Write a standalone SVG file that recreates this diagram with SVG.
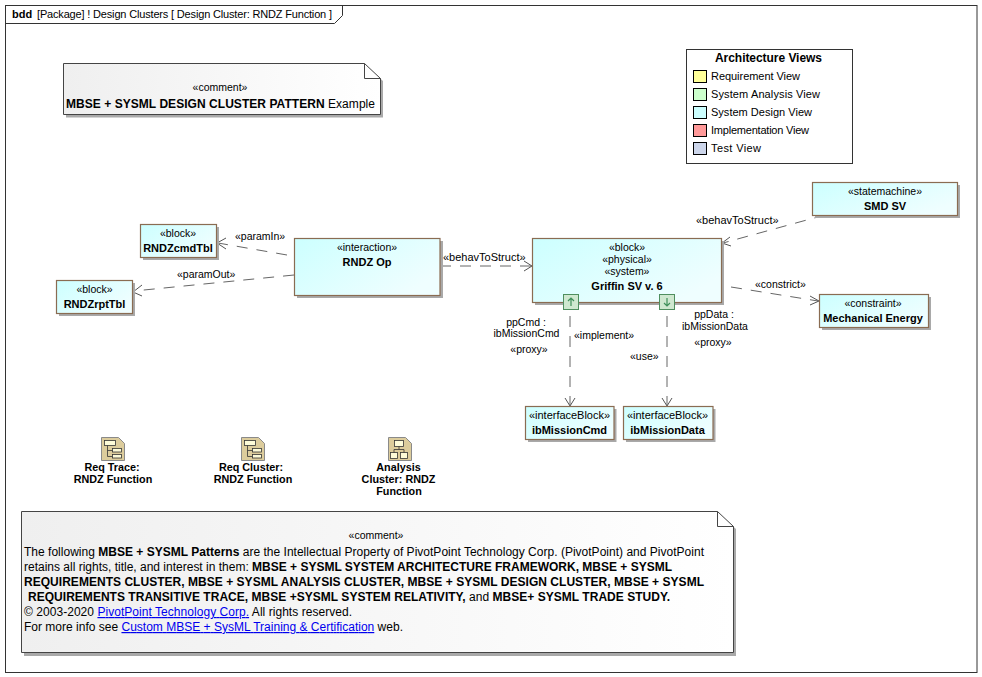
<svg xmlns="http://www.w3.org/2000/svg" width="982" height="677" viewBox="0 0 982 677">
<style>
text{font-family:"Liberation Sans",Arial,sans-serif;font-size:11px;fill:#000}
.c{text-anchor:middle}
.b{font-weight:bold}
.n{font-size:10.500px}
.bt{font-size:11px;font-weight:bold}
.ib{font-size:10.800px;font-weight:bold}
.sh{fill:#a9a9a9}
.blk{fill:url(#cy);stroke:#8a6c52;stroke-width:1.200}
.note{fill:url(#gr);stroke:#444;stroke-width:1}
.fold{fill:none;stroke:#444;stroke-width:1}
.dep{fill:none;stroke:#666;stroke-width:1;stroke-dasharray:11 9}
.head{fill:none;stroke:#555;stroke-width:1}
.sw{stroke:#000;stroke-width:1}
.port{fill:#cfe8d0;stroke:#4f8f5f;stroke-width:1}
.parr{fill:none;stroke:#3f8f5a;stroke-width:1.200}
.ico{fill:#dccc9c;stroke:#8a8a8a;stroke-width:1}
.ic{fill:#fdfbd8;stroke:#333;stroke-width:.8}
.il{fill:none;stroke:#333;stroke-width:.8}
.lnk{fill:#0000ee;text-decoration:underline}
.t{font-size:12px}
</style>
<defs>
<linearGradient id="cy" x1="0" y1="0" x2="1" y2="0.6"><stop offset="0" stop-color="#ccffff"/><stop offset="1" stop-color="#effeff"/></linearGradient>
<linearGradient id="gr" x1="0" y1="0" x2="1" y2="0"><stop offset="0" stop-color="#efefef"/><stop offset="1" stop-color="#ffffff"/></linearGradient>
</defs>
<rect width="982" height="677" fill="#fff"/>
<g id="frame">
<rect x="5.500" y="5.500" width="971.500" height="667" fill="#fff" stroke="#333"/>
<path d="M5.500 23.500H334.500L342.500 15.500V5.500" fill="none" stroke="#333"/>
<text x="12" y="18" class="b">bdd</text>
<text x="37" y="18" textLength="295" lengthAdjust="spacing">[Package] ! Design Clusters [ Design Cluster: RNDZ Function ]</text>
</g>
<g id="comment1">
<path d="M66 67H367L383 81V117.500H66Z" class="sh"/>
<path d="M63.500 63.500H364.500L380.500 78.500V114.500H63.500Z" class="note"/>
<path d="M364.500 63.500V78.500H380.500" class="fold"/>
<text x="220" y="91" class="c n">«comment»</text>
<text x="66" y="108" class="t" textLength="309" lengthAdjust="spacing"><tspan class="b">MBSE + SYSML DESIGN CLUSTER PATTERN</tspan> Example</text>
</g>
<g id="legend">
<rect x="686.500" y="49.500" width="166" height="114" fill="#fff" stroke="#333"/>
<text x="768.500" y="62" class="c b t" textLength="107" lengthAdjust="spacing">Architecture Views</text>
<rect x="693.500" y="70.500" width="13" height="12" fill="#ffff99" class="sw"/><text x="711" y="80" textLength="89">Requirement View</text>
<rect x="693.500" y="88.500" width="13" height="12" fill="#ccffcc" class="sw"/><text x="711" y="98" textLength="109">System Analysis View</text>
<rect x="693.500" y="106.500" width="13" height="12" fill="#ccffff" class="sw"/><text x="711" y="116" textLength="101">System Design View</text>
<rect x="693.500" y="124.500" width="13" height="12" fill="#ff9999" class="sw"/><text x="711" y="134" textLength="98">Implementation View</text>
<rect x="693.500" y="142.500" width="13" height="12" fill="#ccd5ea" class="sw"/><text x="711" y="152" textLength="50">Test View</text>
</g>
<g id="connectors">
<path class="dep" d="M287 255L218 243"/><path class="head" d="M226 238L217 243L226 249"/>
<path class="dep" d="M294 275L134 291"/><path class="head" d="M142 285L133 292L142 296"/>
<path class="dep" d="M440 266H531"/><path class="head" d="M524 261L532 266L524 271"/>
<path class="dep" d="M825 215L723 243"/><path class="head" d="M730 237L722 243L731 246"/>
<path class="dep" d="M731 287L818 301"/><path class="head" d="M810 296L819 301L810 305"/>
<path class="dep" d="M570 316V405"/><path class="head" d="M565 398L570 406L575 398"/>
<path class="dep" d="M667 316V405"/><path class="head" d="M662 398L667 406L672 398"/>
<text x="235" y="240" class="n">«paramIn»</text>
<text x="177" y="278" class="n">«paramOut»</text>
<text x="443" y="261">«behavToStruct»</text>
<text x="696" y="224">«behavToStruct»</text>
<text x="755" y="288" class="n">«constrict»</text>
<text x="574" y="339" class="n">«implement»</text>
<text x="630" y="360" class="n">«use»</text>
</g>
<g id="rndzCmdTbl">
<rect x="143" y="227" width="76" height="33" class="sh"/>
<rect x="140.500" y="224.500" width="76" height="33" class="blk"/>
<text x="178" y="237" class="c n">«block»</text>
<text x="178" y="252" class="c bt">RNDZcmdTbl</text>
</g>
<g id="rndzRptTbl">
<rect x="59" y="283" width="76" height="33" class="sh"/>
<rect x="56.500" y="280.500" width="76" height="33" class="blk"/>
<text x="94.500" y="293" class="c n">«block»</text>
<text x="94.500" y="308" class="c bt">RNDZrptTbl</text>
</g>
<g id="rndzOp">
<rect x="297" y="241" width="146" height="57" class="sh"/>
<rect x="294.500" y="238.500" width="145.500" height="57" class="blk"/>
<text x="367" y="251" class="c n">«interaction»</text>
<text x="367" y="266" class="c bt">RNDZ Op</text>
</g>
<g id="griffin">
<rect x="535" y="241" width="189" height="64" class="sh"/>
<rect x="532.500" y="238.500" width="189" height="64" class="blk"/>
<text x="627" y="251" class="c n">«block»</text>
<text x="627" y="263" class="c n">«physical»</text>
<text x="627" y="275" class="c n">«system»</text>
<text x="627" y="290" class="c bt">Griffin SV v. 6</text>
</g>
<g id="ppCmd">
<rect x="563.500" y="294.500" width="15" height="15" class="port"/>
<path class="parr" d="M571 306V298M568 301L571 298L574 301"/>
<text x="526" y="326" class="c n">ppCmd :</text>
<text x="526.500" y="337" class="c n">ibMissionCmd</text>
<text x="529" y="353" class="c n">«proxy»</text>
</g>
<g id="ppData">
<rect x="659.500" y="294.500" width="15" height="15" class="port"/>
<path class="parr" d="M667 298V306M664 303L667 306L670 303"/>
<text x="714" y="318" class="c n">ppData :</text>
<text x="715" y="330" class="c n">ibMissionData</text>
<text x="713" y="346" class="c n">«proxy»</text>
</g>
<g id="ibMissionCmd">
<rect x="528" y="409" width="88.500" height="33" class="sh"/>
<rect x="525.500" y="406.500" width="88.500" height="33" class="blk"/>
<text x="569.500" y="419" class="c" textLength="81">«interfaceBlock»</text>
<text x="569.500" y="434" class="c bt">ibMissionCmd</text>
</g>
<g id="ibMissionData">
<rect x="626" y="409" width="89.500" height="33" class="sh"/>
<rect x="623.500" y="406.500" width="89.500" height="33" class="blk"/>
<text x="667.500" y="419" class="c" textLength="81">«interfaceBlock»</text>
<text x="667.500" y="434" class="c bt">ibMissionData</text>
</g>
<g id="smdSv">
<rect x="815" y="185" width="145" height="33" class="sh"/>
<rect x="812.500" y="182.500" width="145" height="33" class="blk"/>
<text x="885" y="195" class="c n">«statemachine»</text>
<text x="885" y="210" class="c bt">SMD SV</text>
</g>
<g id="mechEnergy">
<rect x="822" y="297" width="109" height="33" class="sh"/>
<rect x="819.500" y="294.500" width="109" height="33" class="blk"/>
<text x="873" y="307" class="c n">«constraint»</text>
<text x="873" y="322" class="c bt">Mechanical Energy</text>
</g>
<g id="reqTrace">
<path class="ico" d="M101.500 437.500H118.500L124.500 443.500V460.500H101.500Z"/>
<rect class="ic" x="104.500" y="440.500" width="11" height="5"/><rect class="ic" x="112.500" y="448.500" width="9" height="3.500"/><rect class="ic" x="112.500" y="454.500" width="9" height="3.500"/>
<path class="il" d="M107.500 445.500V456.500H112.500M107.500 450.500H112.500"/>
<text x="112" y="471" class="c ib">Req Trace:</text><text x="113" y="483" class="c ib">RNDZ Function</text>
</g>
<g id="reqCluster">
<path class="ico" d="M241.500 437.500H258.500L264.500 443.500V460.500H241.500Z"/>
<rect class="ic" x="244.500" y="440.500" width="11" height="5"/><rect class="ic" x="252.500" y="448.500" width="9" height="3.500"/><rect class="ic" x="252.500" y="454.500" width="9" height="3.500"/>
<path class="il" d="M247.500 445.500V456.500H252.500M247.500 450.500H252.500"/>
<text x="251" y="471" class="c ib">Req Cluster:</text><text x="253" y="483" class="c ib">RNDZ Function</text>
</g>
<g id="analysisCluster">
<path class="ico" d="M388.500 437.500H405.500L411.500 443.500V460.500H388.500Z"/>
<rect class="ic" x="394.500" y="440.500" width="9" height="6"/><rect class="ic" x="390.500" y="452.500" width="7" height="6"/><rect class="ic" x="400.500" y="452.500" width="7" height="6"/>
<path class="il" d="M399 446.500V449.500M394 452.500V449.500H404V452.500"/>
<text x="398.500" y="471" class="c ib">Analysis</text><text x="398.500" y="483" class="c ib">Cluster: RNDZ</text><text x="399" y="495" class="c ib">Function</text>
</g>
<g id="comment2">
<path d="M24 515H720L736 529V656H24Z" class="sh"/>
<path d="M21.500 511.500H717.500L733.500 526.500V652.500H21.500Z" class="note"/>
<path d="M717.500 511.500V526.500H733.500" class="fold"/>
<text x="376" y="539" class="c n">«comment»</text>
<text x="24" y="556" class="t" textLength="680" lengthAdjust="spacing">The following <tspan class="b">MBSE + SYSML Patterns</tspan> are the Intellectual Property of PivotPoint Technology Corp. (PivotPoint) and PivotPoint</text>
<text x="24" y="571" class="t" textLength="648" lengthAdjust="spacing">retains all rights, title, and interest in them: <tspan class="b">MBSE + SYSML SYSTEM ARCHITECTURE FRAMEWORK, MBSE + SYSML</tspan></text>
<text x="24" y="586" class="t" textLength="680" lengthAdjust="spacing"><tspan class="b">REQUIREMENTS CLUSTER,</tspan> <tspan class="b">MBSE + SYSML ANALYSIS CLUSTER,</tspan> <tspan class="b">MBSE + SYSML DESIGN CLUSTER,</tspan> <tspan class="b">MBSE + SYSML</tspan></text>
<text x="28" y="601" class="t" textLength="642" lengthAdjust="spacing"><tspan class="b">REQUIREMENTS TRANSITIVE TRACE, MBSE +SYSML SYSTEM RELATIVITY,</tspan> and <tspan class="b">MBSE+ SYSML TRADE STUDY.</tspan></text>
<text x="24" y="616" class="t" textLength="328" lengthAdjust="spacing">© 2003-2020 <tspan class="lnk">PivotPoint Technology Corp.</tspan> All rights reserved.</text>
<text x="24" y="631" class="t" textLength="379" lengthAdjust="spacing">For more info see <tspan class="lnk">Custom MBSE + SysML Training &amp; Certification</tspan> web.</text>
</g>
</svg>
